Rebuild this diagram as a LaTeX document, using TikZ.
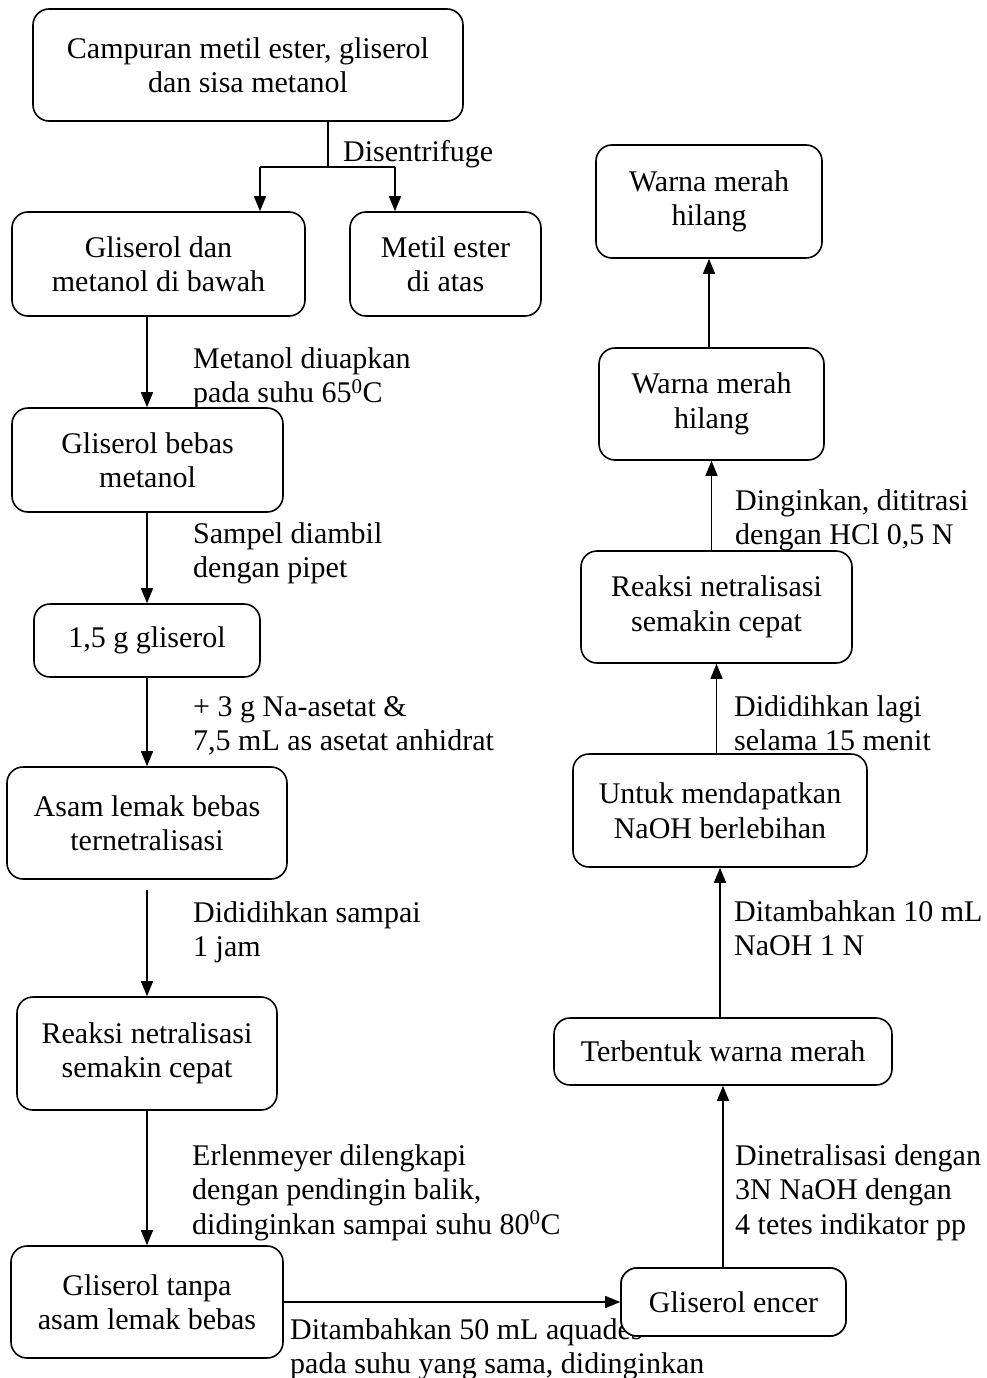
\documentclass[tikz,border=0pt]{standalone}
\usepackage{fontspec}
\setmainfont{Liberation Serif}
\usetikzlibrary{arrows.meta}
\begin{document}
\begin{tikzpicture}[x=1pt,y=-1pt,
  font=\fontsize{30}{34.5}\selectfont,
  box/.style={draw, line width=1.6pt, rounded corners=16pt, align=center, inner sep=0pt, fill=white},
  lbl/.style={anchor=base west, align=left, inner sep=0pt},
  arr/.style={line width=1.4pt, -{Triangle[length=15pt,width=12pt]}},
  ln/.style={line width=1.4pt}]
\useasboundingbox (0,0) rectangle (986,1378);
% left column
\node[box, minimum width=430pt, minimum height=112pt] (n1) at (248,65) {Campuran metil ester, gliserol\\dan sisa metanol};
\node[box, minimum width=293pt, minimum height=104pt] (n2) at (158.5,264) {Gliserol dan\\metanol di bawah};
\node[box, minimum width=191pt, minimum height=104pt] (n3) at (445.5,264) {Metil ester\\di atas};
\node[box, minimum width=271pt, minimum height=104pt] (n4) at (147.5,460) {Gliserol bebas\\metanol};
\node[box, minimum width=226pt, minimum height=73pt] (n5) at (147,640.5) {1,5 g gliserol};
\node[box, minimum width=280pt, minimum height=112pt] (n6) at (147,823) {Asam lemak bebas\\ternetralisasi};
\node[box, minimum width=260pt, minimum height=113pt] (n7) at (147,1053.5) {Reaksi netralisasi\\semakin cepat};
\node[box, minimum width=272pt, minimum height=112pt] (n8) at (147,1302) {Gliserol tanpa\\asam lemak bebas};
% labels left (base = baseline of last line)
\node[lbl] (l1) at (343,161) {Disentrifuge};
\node[lbl] (l2) at (193,402.5) {Metanol diuapkan\\pada suhu 65\textsuperscript{0}C};
\node[lbl] (l3) at (193,577.5) {Sampel diambil\\dengan pipet};
\node[lbl] (l4) at (193,750.5) {+ 3 g Na-asetat \&\\7,5 mL as asetat anhidrat};
\node[lbl] (l5) at (193,956.5) {Dididihkan sampai\\1 jam};
\node[lbl] (l6) at (192,1234) {Erlenmeyer dilengkapi\\dengan pendingin balik,\\didinginkan sampai suhu 80\textsuperscript{0}C};
\node[lbl] (l7) at (290,1373.5) {Ditambahkan 50 mL aquades\\pada suhu yang sama, didinginkan};
% right column
\node[box, minimum width=225pt, minimum height=68pt] (n9) at (733.5,1302) {Gliserol encer};
\node[box, minimum width=338pt, minimum height=67pt] (n10) at (723,1051.5) {Terbentuk warna merah};
\node[box, minimum width=294pt, minimum height=113pt] (n11) at (720,810.5) {Untuk mendapatkan\\NaOH berlebihan};
\node[box, minimum width=271pt, minimum height=112pt] (n12) at (716.5,607) {Reaksi netralisasi\\semakin cepat};
\node[box, minimum width=225pt, minimum height=112pt] (n13) at (711.5,404) {Warna merah\\hilang};
\node[box, minimum width=226pt, minimum height=113pt] (n14) at (709,201.5) {Warna merah\\hilang};
% labels right
\node[lbl] (r1) at (735,1234) {Dinetralisasi dengan\\3N NaOH dengan\\4 tetes indikator pp};
\node[lbl] (r2) at (734,955.5) {Ditambahkan 10 mL\\NaOH 1 N};
\node[lbl] (r3) at (734,750.5) {Dididihkan lagi\\selama 15 menit};
\node[lbl] (r4) at (735,544.5) {Dinginkan, dititrasi\\dengan HCl 0,5 N};
% connectors
\coordinate (s0) at (328,167);
\coordinate (sL) at (260,167);
\coordinate (sR) at (395,167);
\coordinate (xl) at (147,0);
\draw[ln] (n1.south -| s0) -- (s0);
\draw[ln] (sL) -- (sR);
\draw[arr] (sL) -- (sL |- n2.north);
\draw[arr] (sR) -- (sR |- n3.north);
\draw[arr] (n2.south -| xl) -- (n4.north -| xl);
\draw[arr] (n4.south -| xl) -- (n5.north -| xl);
\draw[arr] (n5.south -| xl) -- (n6.north -| xl);
\draw[arr, shorten <=10pt] (n6.south -| xl) -- (n7.north -| xl);
\draw[arr] (n7.south -| xl) -- (n8.north -| xl);
\draw[arr] (n8.east) -- (n9.west);
\draw[arr] (n10.south |- n9.north) -- (n10.south);
\draw[arr] (n11.south |- n10.north) -- (n11.south);
\draw[arr] (n12.south |- n11.north) -- (n12.south);
\draw[arr] (n13.south |- n12.north) -- (n13.south);
\draw[arr] (n14.south |- n13.north) -- (n14.south);
% redraw n9 on top of label l7
\node[box, minimum width=225pt, minimum height=68pt] at (n9) {Gliserol encer};
\end{tikzpicture}
\end{document}
